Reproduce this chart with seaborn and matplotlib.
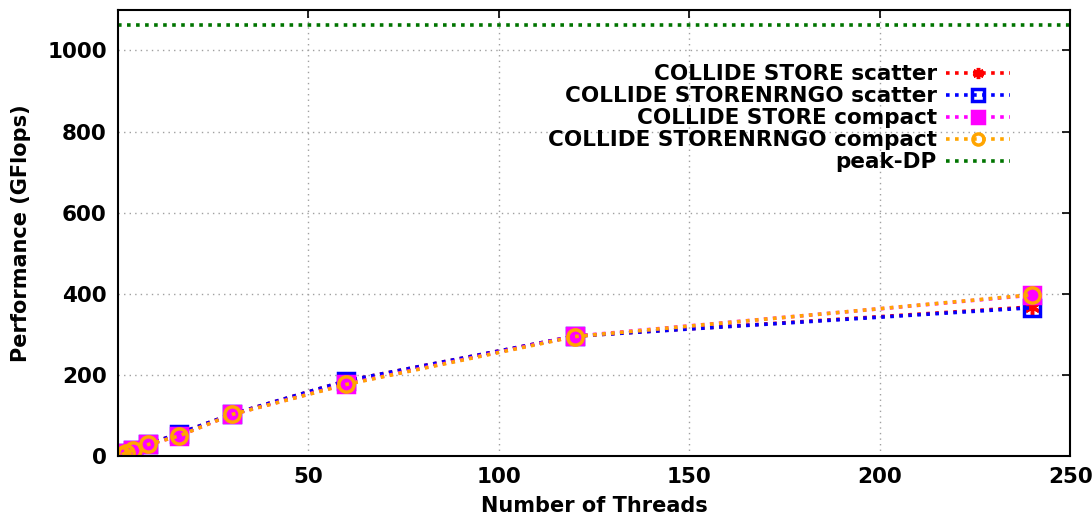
import matplotlib
matplotlib.use("Agg")
import matplotlib.pyplot as plt
import seaborn as sns
import numpy as np
import pandas as pd

threads = [1, 2, 4, 8, 16, 30, 60, 120, 240]
store_scatter = [4, 8, 15, 30, 56, 104, 186, 296, 368]
storenrngo_scatter = [4, 8, 15, 30, 56, 104, 186, 296, 366]
store_compact = [4, 8, 15, 29, 50, 103, 178, 296, 397]
storenrngo_compact = [4, 8, 15, 29, 50, 103, 177, 295, 398]
peak_dp = 1064

labels = ["COLLIDE STORE scatter", "COLLIDE STORENRNGO scatter",
          "COLLIDE STORE compact", "COLLIDE STORENRNGO compact"]
colors = ["#ff0000", "#0000ff", "#ff00ff", "#ffa500"]

sns.set_theme(style="white")
plt.rcParams['font.family'] = ['DejaVu Sans']
plt.rcParams['font.weight'] = 'bold'
plt.rcParams['text.color'] = 'black'
plt.rcParams['axes.labelcolor'] = 'black'

fig = plt.figure(figsize=(10.92, 5.22), dpi=100)
ax = fig.add_axes([0.108, 0.126, 0.872, 0.855])

series = [store_scatter, storenrngo_scatter, store_compact, storenrngo_compact]
markers = [(6, 2, 0), "s", "s", "o"]
mfcs = ["#ff0000", "none", "#ff00ff", "none"]

for vals, lab, col, mk, mfc in zip(series, labels, colors, markers, mfcs):
    df = pd.DataFrame({"x": threads, "y": vals})
    sns.lineplot(data=df, x="x", y="y", ax=ax, color=col, label=lab,
                 linestyle=(0, (1, 1.5)), linewidth=2.6, marker=mk,
                 markersize=11, markerfacecolor=mfc, markeredgecolor=col,
                 markeredgewidth=2.5)

ax.axhline(peak_dp, color="#007400", linestyle=(0, (1, 1.5)), linewidth=2.6,
           label="peak-DP")

ax.set_xlim(0, 250)
ax.set_ylim(0, 1100)
ax.set_xticks([50, 100, 150, 200, 250])
ax.set_yticks([0, 200, 400, 600, 800, 1000])
ax.grid(True, color="#a0a0a0", linestyle=(0, (1, 3)), linewidth=1)
for s in ax.spines.values():
    s.set_color("black")
    s.set_linewidth(1.5)
ax.tick_params(direction="in", length=6, width=1.2, top=True, right=True,
               labelsize=15.5, colors="black", pad=8)
for t in ax.get_xticklabels() + ax.get_yticklabels():
    t.set_fontweight("bold")
ax.set_xlabel("Number of Threads", fontsize=15, fontweight="bold", labelpad=6, color="black")
ax.set_ylabel("Performance (GFlops)", fontsize=15, fontweight="bold", labelpad=12, color="black")

leg = ax.legend(loc="upper right", bbox_to_anchor=(0.937, 0.878), frameon=False,
                markerfirst=False, fontsize=15.5, handlelength=3.0,
                labelspacing=0.09, handletextpad=0.4, borderaxespad=0,
                borderpad=0)
for t in leg.get_texts():
    t.set_fontweight("bold")
    t.set_color("black")
    t.set_ha("right")
leg._legend_box.align = "right"
for h in leg.legend_handles:
    try:
        h.set_markersize(8)
    except Exception:
        pass

fig.savefig("out.png", dpi=100)
